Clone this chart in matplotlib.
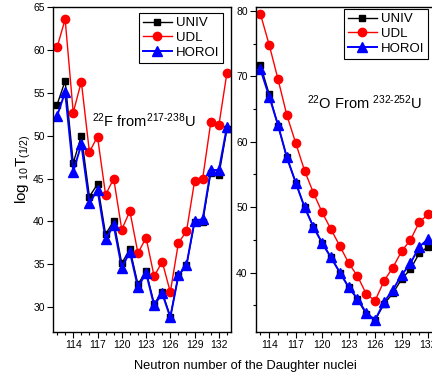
import numpy as np
import matplotlib
matplotlib.use("Agg")
from matplotlib import pyplot as plt
from matplotlib.ticker import MultipleLocator

plt.rcParams['font.family'] = ['Liberation Sans', 'DejaVu Sans']
plt.rcParams['mathtext.fontset'] = 'custom'
plt.rcParams['mathtext.rm'] = 'Liberation Sans'
plt.rcParams['mathtext.it'] = 'Liberation Sans'

# 22F from 217-238U
n_f = list(range(112, 134))
univ_f = [53.6, 56.4, 46.8, 50.0, 42.9, 44.35, 38.5, 40.05, 35.1, 36.8, 32.65,
          34.2, 30.4, 31.75, 28.9, 33.7, 34.9, 39.9, 39.9, 45.7, 45.4, 50.8]
udl_f = [60.3, 63.6, 52.7, 56.3, 48.1, 49.9, 43.1, 45.0, 39.05, 41.2, 36.3,
         38.1, 33.6, 35.3, 31.75, 37.5, 38.85, 44.7, 45.0, 51.55, 51.2, 57.35]
horoi_f = [52.3, 55.1, 45.8, 49.0, 42.1, 43.7, 37.9, 39.55, 34.6, 36.45, 32.3,
           34.0, 30.2, 31.6, 28.8, 33.7, 34.9, 40.1, 40.25, 46.0, 46.0, 51.05]

# 22O from 232-252U
n_o = list(range(113, 133))
univ_o = [71.75, 67.25, 62.45, 57.6, 53.75, 50.0, 47.0, 44.5, 42.3, 40.0,
          37.75, 35.9, 33.6, 32.75, 35.15, 36.8, 39.0, 40.5, 42.95, 43.95]
udl_o = [79.55, 74.8, 69.55, 64.05, 59.8, 55.6, 52.2, 49.2, 46.6, 44.05,
         41.45, 39.45, 36.7, 35.7, 38.7, 40.75, 43.25, 45.0, 47.7, 48.9]
horoi_o = [71.1, 66.9, 62.55, 57.6, 53.75, 50.0, 47.0, 44.5, 42.3, 40.0,
           37.75, 36.0, 33.8, 32.75, 35.45, 37.35, 39.6, 41.4, 43.95, 45.1]

xticks = [114, 117, 120, 123, 126, 129, 132]

fig = plt.figure(figsize=(4.32, 3.76), dpi=100)
ax1 = fig.add_axes([0.1227, 0.117, 0.412, 0.864])
ax2 = fig.add_axes([0.5926, 0.117, 0.429, 0.864])


def draw(ax, n, univ, udl, horoi, anchor):
    ax.plot(n, univ, "-s", color="black", lw=1.0, ms=5, label="UNIV")
    ax.plot(n, udl, "-o", color="red", lw=1.0, ms=6, label="UDL")
    ax.plot(n, horoi, "-^", color="blue", lw=1.4, ms=6.5, label="HOROI")
    ax.set_xticks(xticks)
    ax.xaxis.set_minor_locator(MultipleLocator(1))
    ax.tick_params(which="major", direction="out", length=4, width=0.8,
                   labelsize=7.5, pad=2)
    ax.tick_params(which="minor", direction="out", length=2, width=0.8)
    for s in ax.spines.values():
        s.set_linewidth(1.0)
    leg = ax.legend(loc="upper right", fontsize=9.5, frameon=True, fancybox=False,
                    edgecolor="black", framealpha=1, handlelength=2.2,
                    borderpad=0.3, labelspacing=0.2, handletextpad=0.3,
                    borderaxespad=0, bbox_to_anchor=anchor,
                    bbox_transform=fig.transFigure)
    leg.get_frame().set_linewidth(0.8)


draw(ax1, n_f, univ_f, udl_f, horoi_f, (223 / 432, 1 - 13 / 376))
ax1.set_xlim(111.5, 133.5)
ax1.set_ylim(27.1, 65)
ax1.set_yticks([30, 35, 40, 45, 50, 55, 60, 65])
ax1.text(0.218, 0.63, r"$^{22}$F from$^{217\text{-}238}$U", transform=ax1.transAxes,
         fontsize=10.5)
ax1.set_ylabel(r"log $_{10}$T$_{(1/2)}$", fontsize=11, labelpad=0)

draw(ax2, n_o, univ_o, udl_o, horoi_o, (428 / 432, 1 - 9 / 376))
ax2.set_xlim(112.5, 133.5)
ax2.set_ylim(30.9, 80.6)
ax2.set_yticks([40, 50, 60, 70, 80])
ax2.yaxis.set_minor_locator(MultipleLocator(5))
ax2.text(0.275, 0.685, r"$^{22}$O From $^{232\text{-}252}$U", transform=ax2.transAxes,
         fontsize=10.5)

fig.text(0.567, 0.018, "Neutron number of the Daughter nuclei", ha="center",
         fontsize=9.3)

plt.savefig("out.png", dpi=100)
